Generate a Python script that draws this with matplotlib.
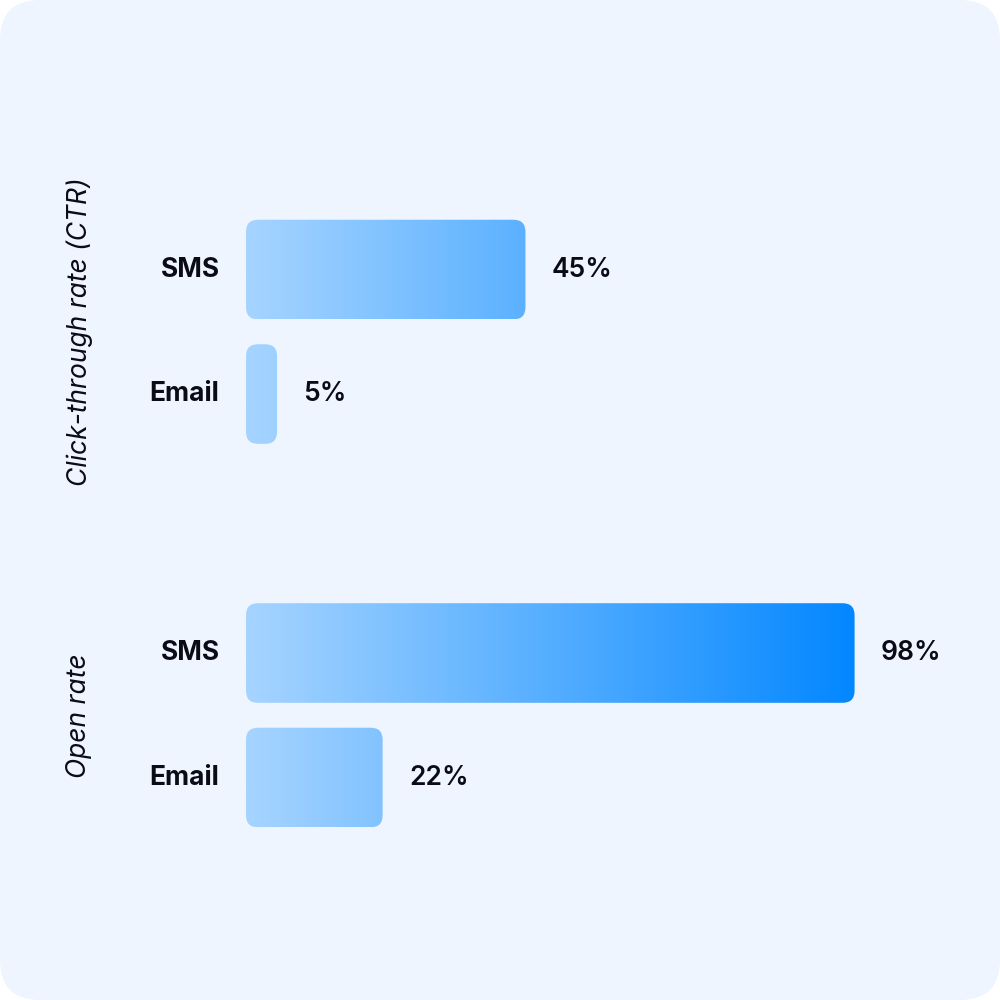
import matplotlib.pyplot as plt
import numpy as np
from matplotlib.colors import LinearSegmentedColormap
from matplotlib.patches import FancyBboxPatch

plt.rcParams["font.family"] = ["Inter", "DejaVu Sans"]

# data
groups = ["Click-through rate (CTR)", "Open rate"]
channels = ["SMS", "Email"]
ctr_values = [45, 5]
open_values = [98, 22]

TEXT = "#0b0b16"
BG = "#eef5ff"

fig = plt.figure(figsize=(10, 10), dpi=100, facecolor="white")
fig.patches.append(FancyBboxPatch(
    (0, 0), 1, 1, boxstyle="round,pad=0,rounding_size=0.04",
    transform=fig.transFigure, facecolor=BG, edgecolor="none", zorder=-5))

# axes: x in percent, y in row slots
ax = fig.add_axes([0.246, 0.0, 0.621, 1.0])
ax.set_xlim(0, 100)
ax.set_ylim(5.867, -2.165)
ax.axis("off")

px_x = 621 / 100.0          # pixels per percent
px_y = 1000 / (5.867 + 2.165)  # pixels per row slot

cmap = LinearSegmentedColormap.from_list("bluegrad", ["#a6d4ff", "#0086ff"])
gradient = np.linspace(0, 1, 512).reshape(1, -1)

group_gap = 3.08
bar_h = 0.8
radius_px = 12

for g, (group, values) in enumerate(zip(groups, [ctr_values, open_values])):
    base = g * group_gap
    for i, (name, val) in enumerate(zip(channels, values)):
        y = base + i
        patch = FancyBboxPatch(
            (0, y - bar_h / 2), val, bar_h,
            boxstyle=f"round,pad=0,rounding_size={radius_px / px_x}",
            mutation_aspect=px_x / px_y,
            facecolor="none", edgecolor="none")
        ax.add_patch(patch)
        im = ax.imshow(gradient, cmap=cmap, aspect="auto",
                       extent=(0, 100, y + bar_h / 2, y - bar_h / 2),
                       interpolation="bicubic")
        im.set_clip_path(patch)
        ax.annotate(name, (0, y), xytext=(-19, 0), textcoords="offset points",
                    ha="right", va="center", fontsize=19, fontweight="bold",
                    color=TEXT)
        ax.annotate(f"{val}%", (val, y), xytext=(19, 0), textcoords="offset points",
                    ha="left", va="center", fontsize=19, fontweight="semibold",
                    color=TEXT)
    ax.annotate(group, (0, base + 0.5), xycoords="data", xytext=(-120, 0),
                textcoords="offset points", rotation=90, ha="center", va="center",
                fontsize=19, fontstyle="italic", color=TEXT)

ax.set_xlim(0, 100)
ax.set_ylim(5.867, -2.165)

fig.savefig("out.png", dpi=100, facecolor="white")
